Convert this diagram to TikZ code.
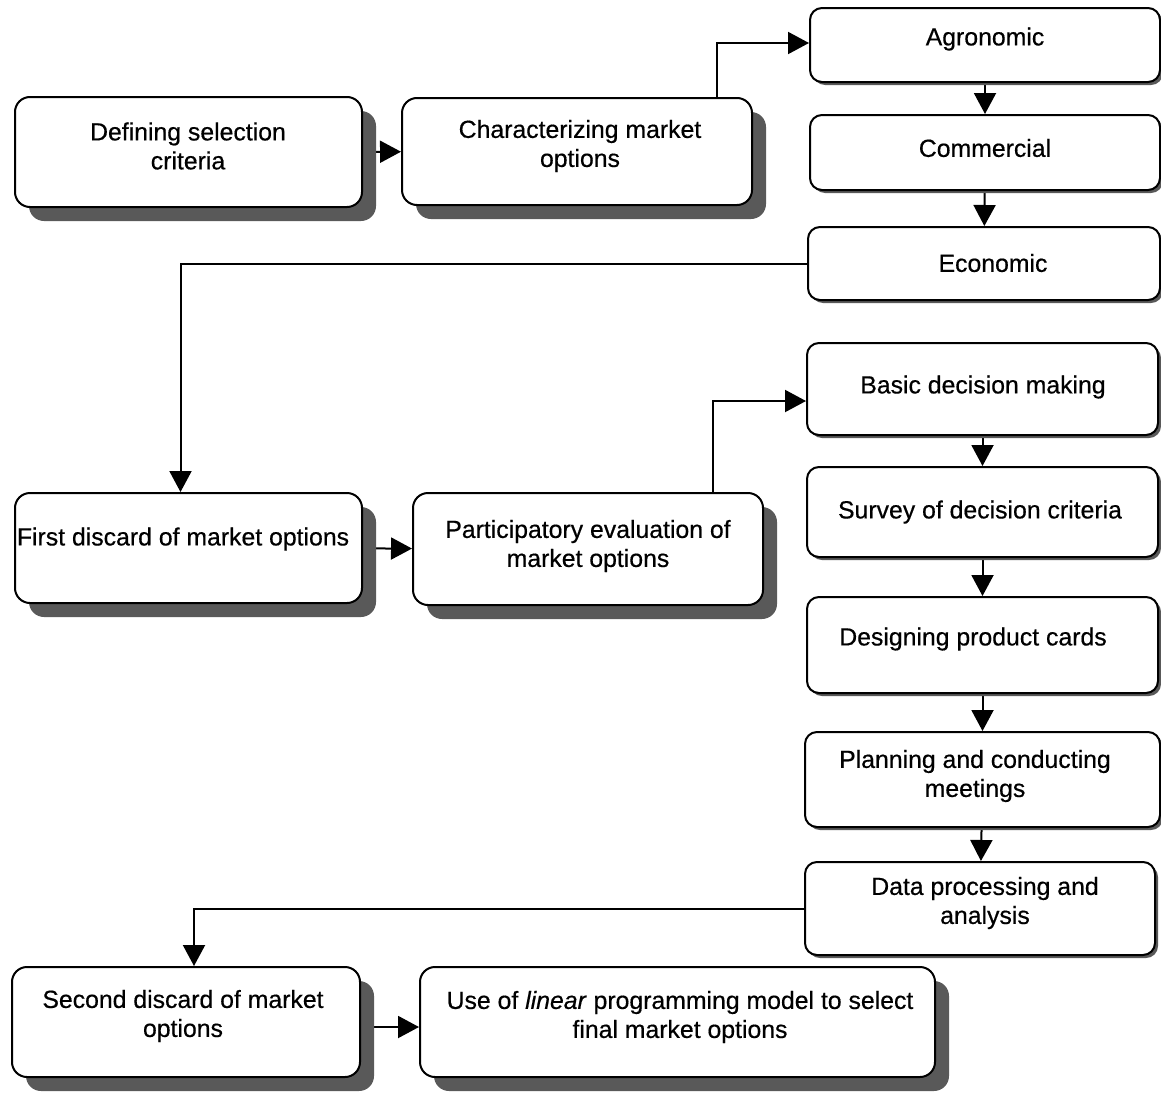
\documentclass[tikz,border=0pt]{standalone}
\usepackage{fontspec}
\setmainfont{Liberation Sans}
\newfontfamily\thicksans{Liberation Sans}[FakeBold=0.5]
\usetikzlibrary{arrows.meta,fit,shadows}
\pgfdeclarelayer{bg}
\pgfsetlayers{bg,main}
\begin{document}
\begin{tikzpicture}[x=0.5pt,y=-0.5pt,
  bigbox/.style={draw=black,line width=1pt,fill=white,rounded corners=7.5pt,inner sep=0pt,
    general shadow={fill=black!65,shadow xshift=7pt,shadow yshift=-7pt}},
  smallbox/.style={draw=black,line width=1pt,fill=white,rounded corners=6pt,inner sep=0pt,
    general shadow={fill=black!65,shadow xshift=1.5pt,shadow yshift=-1.5pt}},
  label/.style={align=center,inner sep=0pt,font=\thicksans\fontsize{12.4}{14.5}\selectfont},
  arr/.style={draw=black,line width=1pt,-{Triangle[length=10.5pt,width=11pt]}}]
\useasboundingbox (0,0) rectangle (1161,1092);

% boxes of the left-hand flow
\node[bigbox,fit={(15,97) (362,207)}] (b1) {};
\node[bigbox,fit={(402,98) (752,205)}] (b2) {};
\node[bigbox,fit={(15,493) (362,603)}] (first) {};
\node[bigbox,fit={(413,493) (763,605)}] (part) {};
\node[bigbox,fit={(12,967) (360,1077)}] (second) {};
\node[bigbox,fit={(420,967) (935,1077)}] (use) {};

% boxes of the right-hand columns
\node[smallbox,fit={(810,8) (1160,82)}] (agr) {};
\node[smallbox,fit={(810,115) (1160,190)}] (com) {};
\node[smallbox,fit={(808,227) (1160,300)}] (eco) {};
\node[smallbox,fit={(807,343) (1158,435)}] (basic) {};
\node[smallbox,fit={(807,467) (1158,557)}] (survey) {};
\node[smallbox,fit={(807,597) (1158,693)}] (design) {};
\node[smallbox,fit={(805,732) (1160,827)}] (plan) {};
\node[smallbox,fit={(805,862) (1155,955)}] (data) {};

% texts
\node[label] (t1) at (188,146) {Defining selection\\criteria};
\node[label] (t2) at (580,146) {Characterizing market\\options};
\node[label] (t3) at (985,39) {Agronomic};
\node[label] (t4) at (985,148) {Commercial};
\node[label] (t5) at (993,263) {Economic};
\node[label] (t6) at (183,539) {First discard of market options};
\node[label] (t7) at (588,546) {Participatory evaluation of\\market options};
\node[label] (t8) at (983,387) {Basic decision making};
\node[label] (t9) at (980,512) {Survey of decision criteria};
\node[label] (t10) at (973,639) {Designing product cards};
\node[label] (t11) at (975,776) {Planning and conducting\\meetings};
\node[label] (t12) at (985,903) {Data processing and\\analysis};
\node[label] (t13) at (183,1016) {Second discard of market\\options};
\node[label] (t14) at (680,1017) {Use of \textit{linear} programming model to select\\final market options};

% connectors
\begin{pgfonlayer}{bg}
\draw[arr] (b1) -- (b2);
\draw[arr] ([xshift=70pt]b2.north) |- ([yshift=1pt]agr.west);
\draw[arr] (agr) -- (com);
\draw[arr] (com) -- (eco);
\draw[arr] (eco.west) -| ([xshift=-4pt]first.north);
\draw[arr] (first) -- (part);
\draw[arr] ([xshift=62.5pt]part.north) |- ([yshift=-6pt]basic.west);
\draw[arr] (basic) -- (survey);
\draw[arr] (survey) -- (design);
\draw[arr] (design) -- (plan);
\draw[arr] (plan) -- (data);
\draw[arr] (data.west) -| ([xshift=4pt]second.north);
\draw[arr] ([yshift=-2.5pt]second.east) -- ([yshift=-2.5pt]use.west);
\end{pgfonlayer}
\end{tikzpicture}
\end{document}
